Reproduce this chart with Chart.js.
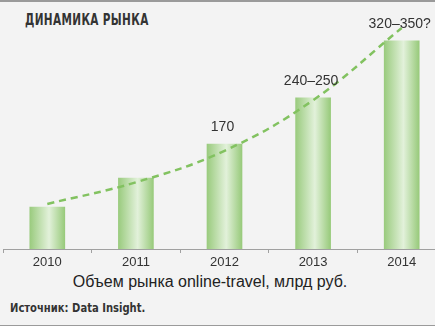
<!DOCTYPE html>
<html>
<head>
<meta charset="utf-8">
<script src="https://cdn.jsdelivr.net/npm/chart.js@4"></script>
<style>
  html, body { margin: 0; padding: 0; }
  body {
    width: 435px; height: 326px; background: #f3f3f3;
    position: relative; overflow: hidden;
    border-top: 2px solid #9a9a9a; box-sizing: border-box;
  }
  .title {
    position: absolute; left: 25px; top: 9px; white-space: nowrap;
    font: bold 15px "DejaVu Sans", sans-serif;
    letter-spacing: 0.5px; color: #333;
    transform: scaleX(0.70); transform-origin: left top;
  }
  .chart-box {
    position: absolute; left: 0; top: 0; width: 435px; height: 270px; overflow: hidden;
  }
  .axis-title {
    position: absolute; left: 0; width: 420px; top: 271px; text-align: center;
    font: 16px "Liberation Sans", Arial, sans-serif; color: #222;
  }
  .source {
    position: absolute; left: 10px; top: 298px; white-space: nowrap;
    font: bold 13px "DejaVu Sans", sans-serif; color: #333;
    transform: scaleX(0.77); transform-origin: left top;
  }
  .bottom-line {
    position: absolute; left: 0; right: 0; bottom: 0; height: 1px; background: #9a9a9a;
  }
</style>
</head>
<body>
<div class="title">ДИНАМИКА РЫНКА</div>
<div class="chart-box"><canvas id="marketChart" width="450" height="270"></canvas></div>
<div class="axis-title">Объем рынка online-travel, млрд руб.</div>
<div class="source">Источник: Data Insight.</div>
<div class="bottom-line"></div>
<script>
const years = ["2010", "2011", "2012", "2013", "2014"];
const marketVolume = [68, 115, 170, 245, 337];
const trendValues = [73, 108, 159, 241, 358];
const barLabels = ["", "", "170", "240–250", "320–350?"];

const BAR_W = 35;
let gradients = [];

// build one horizontal gradient per bar once the scales are laid out
const gradientPlugin = {
  id: "barGradients",
  afterLayout(chart) {
    const xScale = chart.scales.x;
    gradients = years.map((_, i) => {
      const cx = xScale.getPixelForValue(i);
      if (!isFinite(cx)) return "#a6d48d";
      const g = chart.ctx.createLinearGradient(cx - BAR_W / 2, 0, cx + BAR_W / 2, 0);
      g.addColorStop(0, "#9acb7e");
      g.addColorStop(0.55, "#e2f1da");
      g.addColorStop(1, "#98ca7b");
      return g;
    });
  }
};

const labelPlugin = {
  id: "barLabels",
  afterDatasetsDraw(chart) {
    const ctx = chart.ctx;
    const meta = chart.getDatasetMeta(1);
    ctx.save();
    ctx.font = "14px 'Liberation Sans', Arial, sans-serif";
    ctx.fillStyle = "#333";
    ctx.textAlign = "center";
    ctx.textBaseline = "bottom";
    meta.data.forEach((bar, i) => {
      if (barLabels[i]) ctx.fillText(barLabels[i], bar.x - 2, bar.y - 10);
    });
    ctx.restore();
  }
};

const ctx = document.getElementById("marketChart").getContext("2d");
new Chart(ctx, {
  data: {
    labels: years,
    datasets: [
      {
        type: "line",
        data: trendValues,
        borderColor: "#82c260",
        borderWidth: 2.5,
        borderDash: [7, 5],
        pointRadius: 0,
        tension: 0.4,
        fill: false,
      },
      {
        type: "bar",
        data: marketVolume,
        backgroundColor: (c) => gradients[c.dataIndex] || "#a6d48d",
        borderWidth: 0,
        barThickness: BAR_W,
      },
    ],
  },
  options: {
    responsive: false,
    animation: false,
    layout: { padding: { left: 3, right: 4, top: 0, bottom: 0 } },
    plugins: {
      legend: { display: false },
      tooltip: { enabled: false },
    },
    scales: {
      x: {
        offset: true,
        grid: {
          offset: true,
          drawOnChartArea: false,
          drawTicks: true,
          tickLength: 4,
          color: "#a0a0a0",
        },
        border: { display: true, color: "#a0a0a0", width: 1 },
        ticks: {
          color: "#333",
          padding: 2,
          font: { family: "'Liberation Sans', Arial, sans-serif", size: 13 },
        },
        afterFit(scale) { scale.height = 23; },
      },
      y: {
        display: false,
        min: 0,
        max: 400,
      },
    },
  },
  plugins: [gradientPlugin, labelPlugin],
});
</script>
</body>
</html>
